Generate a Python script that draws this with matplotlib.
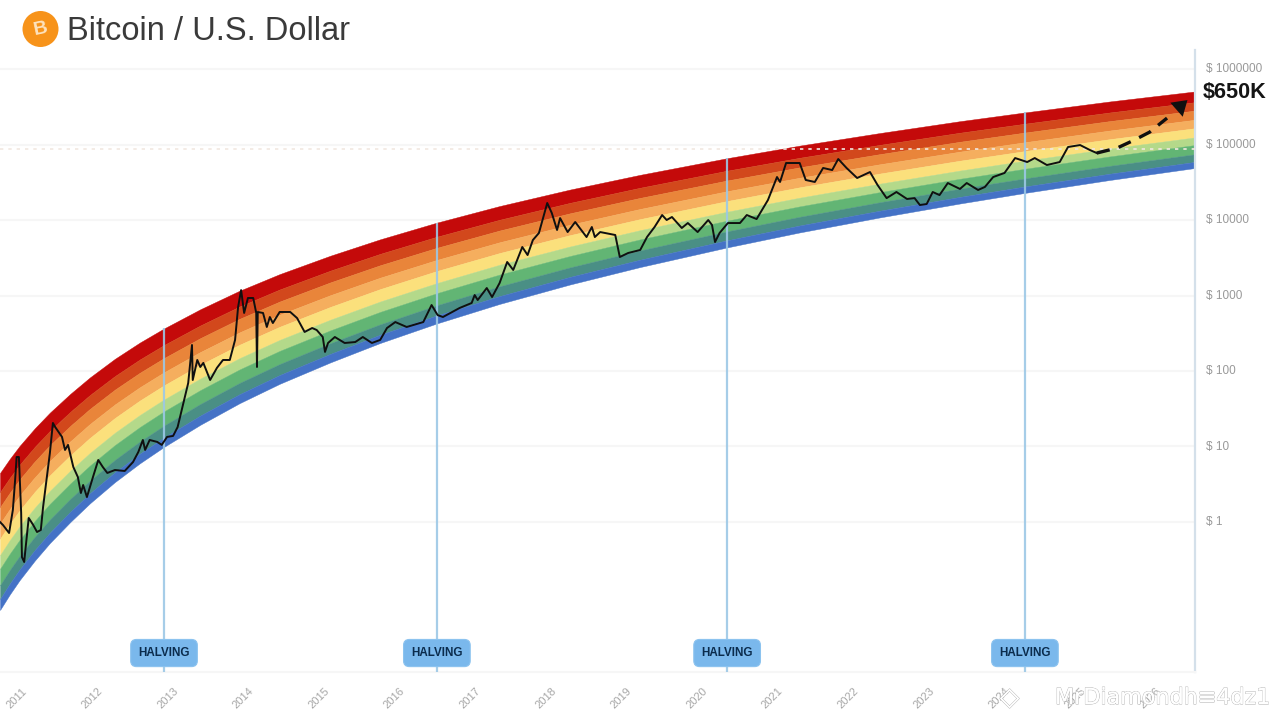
import numpy as np
import matplotlib
matplotlib.use("Agg")
import matplotlib.pyplot as plt
from matplotlib.patches import Ellipse
from matplotlib.transforms import ScaledTranslation
import matplotlib.patheffects as pe

plt.rcParams['font.family'] = ['Liberation Sans', 'DejaVu Sans']

# rainbow outer edges
rainbow_years = [2010.74, 2010.87, 2011.00, 2011.20, 2011.40, 2011.67, 2011.93, 2012.26, 2012.59, 2012.91,
                 2013.39, 2013.91, 2014.44, 2015.11, 2015.77, 2016.52, 2017.35, 2018.28, 2019.21, 2020.36,
                 2021.32, 2022.38, 2023.44, 2024.30, 2025.42, 2026.55]
rainbow_top = [4.46, 6.87, 10.2, 17.4, 28.1, 49.8, 82.3, 145, 238, 366,
               657, 1158, 1920, 3365, 5550, 9240, 15310, 25290, 39700, 65900,
               96700, 141900, 203700, 266100, 371500, 504700]
rainbow_bottom = [0.0683, 0.110, 0.170, 0.308, 0.527, 1.0, 1.77, 3.38, 5.99, 9.88,
                  19.4, 37.5, 67.7, 130, 235, 427, 774, 1399, 2384, 4335,
                  6850, 10820, 16550, 22860, 33880, 48860]
# share of the rainbow height taken by each band, top to bottom
band_shares = [0.14, 0.11, 0.12, 0.11, 0.12, 0.10, 0.12, 0.10, 0.08]
band_colors = ['#c40a0a', '#d2481c', '#e9853a', '#f5ae5e', '#fbe07c', '#b4d98a', '#62b574', '#4a8f85', '#4472c6']

btc_years = [2010.74, 2010.78, 2010.86, 2010.91, 2010.94, 2010.96, 2010.99, 2011.02, 2011.03, 2011.06,
             2011.08, 2011.12, 2011.18, 2011.23, 2011.28, 2011.31, 2011.36, 2011.40, 2011.44, 2011.47,
             2011.56, 2011.60, 2011.64, 2011.71, 2011.77, 2011.81, 2011.84, 2011.89, 2011.97, 2012.04,
             2012.10, 2012.16, 2012.26, 2012.39, 2012.50, 2012.57, 2012.63, 2012.66, 2012.72, 2012.82,
             2012.88, 2012.95, 2013.03, 2013.09, 2013.16, 2013.23, 2013.28, 2013.29, 2013.35, 2013.39,
             2013.43, 2013.52, 2013.61, 2013.69, 2013.78, 2013.85, 2013.89, 2013.93, 2013.97, 2014.02,
             2014.09, 2014.13, 2014.14, 2014.15, 2014.22, 2014.27, 2014.31, 2014.35, 2014.44, 2014.58,
             2014.67, 2014.77, 2014.87, 2014.93, 2015.01, 2015.04, 2015.08, 2015.17, 2015.30, 2015.44,
             2015.54, 2015.66, 2015.77, 2015.86, 2015.97, 2016.12, 2016.34, 2016.45, 2016.53, 2016.60,
             2016.82, 2016.98, 2017.02, 2017.06, 2017.18, 2017.25, 2017.35, 2017.45, 2017.53, 2017.65,
             2017.72, 2017.79, 2017.87, 2017.98, 2018.04, 2018.11, 2018.15, 2018.25, 2018.35, 2018.50,
             2018.57, 2018.61, 2018.68, 2018.88, 2018.94, 2019.05, 2019.21, 2019.30, 2019.40, 2019.50,
             2019.56, 2019.63, 2019.76, 2019.84, 2019.97, 2020.11, 2020.16, 2020.20, 2020.26, 2020.37,
             2020.53, 2020.62, 2020.75, 2020.90, 2021.02, 2021.06, 2021.14, 2021.32, 2021.40, 2021.52,
             2021.63, 2021.75, 2021.83, 2021.94, 2022.08, 2022.25, 2022.35, 2022.47, 2022.60, 2022.74,
             2022.84, 2022.91, 2023.00, 2023.08, 2023.17, 2023.28, 2023.44, 2023.53, 2023.68, 2023.77,
             2023.88, 2024.03, 2024.17, 2024.33, 2024.43, 2024.59, 2024.76, 2024.87, 2025.03, 2025.16,
             2025.25]
btc_prices = [1.0, 0.91, 0.715, 1.44, 3.6, 7.26, 7.26, 1.32, 0.344, 0.295,
              0.467, 1.13, 0.91, 0.737, 0.783, 1.58, 3.94, 8.2, 20.5, 18.1,
              13.4, 9.0, 10.5, 5.35, 3.94, 2.42, 3.09, 2.14, 3.94, 6.62,
              5.35, 4.46, 4.88, 4.74, 6.23, 8.46, 12.2, 9.0, 12.2, 11.5,
              10.5, 13.4, 13.8, 18.1, 35.5, 69.3, 221, 76, 140, 113,
              128, 76, 110, 140, 140, 258, 704, 1180, 587, 927,
              927, 587, 113, 605, 587, 383, 519, 432, 605, 605,
              503, 329, 371, 349, 282, 179, 235, 282, 235, 242,
              282, 235, 258, 371, 445, 383, 445, 748, 550, 519,
              683, 796, 1015, 871, 1256, 955, 1465, 2780, 2178, 4390,
              3436, 5430, 6730, 16800, 12400, 7380, 10600, 6930, 9410, 5950,
              8080, 5950, 6930, 6330, 3236, 3656, 4010, 5950, 8080, 11640,
              10000, 10960, 7840, 9120, 6930, 10000, 8590, 5110, 6730, 9120,
              9120, 11640, 10300, 18400, 37100, 31900, 56900, 56900, 33900, 31900,
              48900, 45900, 64300, 48900, 36000, 43200, 29100, 19500, 23500, 19000,
              19500, 15800, 16300, 23500, 21400, 30900, 25800, 30900, 25000, 27400,
              37100, 42000, 66200, 58600, 66200, 53500, 58600, 92700, 98400, 84500,
              77100]

forecast_years = [2025.25, 2025.52, 2025.75, 2025.95, 2026.18]
forecast_prices = [77100, 89900, 115000, 146000, 224000]
arrow_tip_year = 2026.45
arrow_tip_price = 388000

halving_years = [2012.91, 2016.52, 2020.36, 2024.30]
halving_tops = [366, 9240, 65900, 266100]

ath_level = 87500

year_ticks = list(range(2011, 2027))
price_ticks = [1, 10, 100, 1000, 10000, 100000, 1000000]
price_labels = ['$ 1', '$ 10', '$ 100', '$ 1000', '$ 10000', '$ 100000', '$ 1000000']

fig = plt.figure(figsize=(12.8, 7.2), dpi=100, facecolor='white')
ax = fig.add_axes([0, 48 / 720, 1195 / 1280, 622 / 720])
ax.set_yscale('log')
ax.set_xlim(2010.74, 2026.55)
ax.set_ylim(10 ** -1.987, 10 ** 6.252)

# rainbow bands, split in log space
log_top = np.log10(rainbow_top)
log_bottom = np.log10(rainbow_bottom)
cum = np.concatenate([[0], np.cumsum(band_shares)])
for i, col in enumerate(band_colors):
    upper = 10 ** (log_top + (log_bottom - log_top) * cum[i])
    lower = 10 ** (log_top + (log_bottom - log_top) * cum[i + 1])
    ax.fill_between(rainbow_years, lower, upper, color=col, lw=0.3, zorder=2)

ax.axhline(ath_level, color='#f1e7e0', lw=1.2, ls=(0, (2, 3)), zorder=3)

ax.vlines(halving_years, 10 ** -1.987, halving_tops, color='#9cc8e6', lw=1.6, zorder=4, alpha=0.9)

ax.plot(btc_years, btc_prices, color='#101010', lw=1.4, zorder=5, solid_joinstyle='round')
ax.plot(forecast_years, forecast_prices, color='#101010', lw=2.4, ls=(0, (4.0, 2.8)), zorder=5)
ax.annotate('', xy=(arrow_tip_year, arrow_tip_price), xytext=(forecast_years[-1], forecast_prices[-1]),
            arrowprops=dict(arrowstyle='-|>,head_length=0.7,head_width=0.45', color='#101010', mutation_scale=15,
                            lw=0, shrinkA=0, shrinkB=0), zorder=6)

for yr in halving_years:
    ax.text(yr, 0.0305, 'HALVING', transform=ax.get_xaxis_transform(), ha='center', va='center',
            fontsize=8.4, fontweight='bold', color='#0b2c4d', zorder=7,
            bbox=dict(boxstyle='round,pad=0.65,rounding_size=0.5', fc='#7ab8ec', ec='#8cc3ef', lw=0.8))

# axes
ax.grid(axis='y', which='major', color='#f6f6f6', lw=1.6, zorder=0)
ax.set_axisbelow(True)
ax.minorticks_off()
ax.yaxis.tick_right()
ax.set_yticks(price_ticks)
ax.set_yticklabels(price_labels, fontsize=8.5, color='#999999')
ax.tick_params(axis='y', length=0, pad=8)
ax.set_xticks(year_ticks)
ax.set_xticklabels(year_ticks, rotation=45, fontsize=8, color='#a6a6a6')
ax.tick_params(axis='x', length=0, pad=10)
shift = ScaledTranslation(-3 / 100, 0, fig.dpi_scale_trans)
for lab in ax.get_xticklabels():
    lab.set_transform(lab.get_transform() + shift)
shift_up = ScaledTranslation(0, 1.2 / 100, fig.dpi_scale_trans)
for lab in ax.get_yticklabels():
    lab.set_transform(lab.get_transform() + shift_up)

for side in ['top', 'left']:
    ax.spines[side].set_visible(False)
ax.spines['bottom'].set_color('#f6f6f6')
ax.spines['bottom'].set_linewidth(1.5)
ax.spines['right'].set_color('#d4e0ea')
ax.spines['right'].set_linewidth(1.6)

# header
fig.add_artist(Ellipse((40.5 / 1280, 1 - 29 / 720), 36 / 1280, 36 / 720, transform=fig.transFigure, fc='#f7931a', ec='none'))
fig.text(40.5 / 1280, 1 - 29 / 720, 'B', color='#fde3c0', fontsize=14, fontweight='bold', ha='center', va='center', rotation=12)
fig.text(67 / 1280, 1 - 32 / 720, 'Bitcoin / U.S. Dollar', fontsize=23.5, color='#3a3a3a', ha='left', va='center')
fig.text(1203 / 1280, 1 - 92 / 720, '$650K', fontsize=15.6, fontweight='bold', color='#151515', ha='left', va='center')

# watermark
wm = fig.text(1000 / 1280, 1 - 698 / 720, '◇ ', fontsize=18, color='white', ha='left', va='center', family=['DejaVu Sans'])
wm.set_path_effects([pe.withStroke(linewidth=0.8, foreground='#b5b5b5'), pe.Normal()])
wm2 = fig.text(1055 / 1280, 1 - 698 / 720, 'MrDiamondh≡4dz1', fontsize=16, color='white', ha='left', va='center',
               family=['DejaVu Sans'])
wm2.set_path_effects([pe.withStroke(linewidth=0.8, foreground='#b5b5b5'), pe.Normal()])

fig.savefig('out.png', dpi=100)
